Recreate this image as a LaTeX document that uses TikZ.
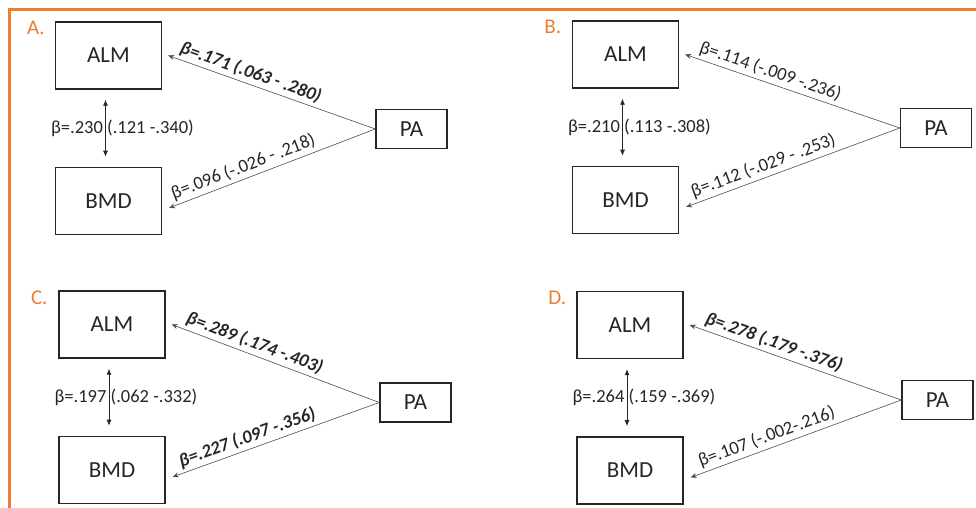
\documentclass[tikz,border=0pt]{standalone}
\usepackage{fontspec}
\setmainfont{Carlito}
\usepackage{xcolor}
\usepackage{tikz}
\usetikzlibrary{arrows.meta}
\usetikzlibrary{positioning}
\definecolor{panelorange}{HTML}{ED7D31}
\definecolor{boxgray}{HTML}{262626}
\definecolor{linegray}{HTML}{4D4D4D}

\begin{document}
\begin{tikzpicture}[x=1pt,y=-1pt,
	varbox/.style={draw=boxgray,line width=1.4pt,minimum width=106pt,minimum height=67pt,inner sep=0pt,text=boxgray,font=\fontsize{23}{26}\selectfont},
	pabox/.style={varbox,minimum width=71pt,minimum height=39pt},
	panellabel/.style={inner sep=0pt,text=panelorange,font=\fontsize{21}{24}\selectfont},
	effect/.style={draw=linegray,line width=0.6pt,-{Stealth[length=6pt,width=5pt,inset=2pt]}},
	corr/.style={draw=boxgray,line width=0.8pt,{Latex[length=6pt,width=5pt]}-{Latex[length=6pt,width=5pt]},shorten <=10pt,shorten >=10pt},
	est/.style={sloped,above,pos=0.62,inner sep=3pt,text=boxgray,font=\fontsize{18.5}{20}\selectfont},
	sig/.style={est,font=\fontsize{18.5}{20}\selectfont\bfseries\itshape},
	corrlabel/.style={xshift=17pt,inner sep=0pt,text=boxgray,font=\fontsize{18.5}{20}\selectfont}]
	\useasboundingbox (0,0) rectangle (976,508);
	\draw[panelorange,line width=2.6pt] (9.5,508) -- (9.5,9.5) -- (976,9.5);
	% A.
	\node[varbox] (almA) at (108.5,55.5) {ALM};
	\node[varbox,below=77pt of almA] (bmdA) {BMD};
	\node[pabox] (paA) at (411.5,129) {PA};
	\node[panellabel] (labA) at ([shift={(-19pt,-7pt)}]almA.north west) {A.};
	\draw[effect] (paA.west) -- node[sig] {β=.171 (.063 - .280)} ([xshift=6pt]almA.east);
	\draw[effect] (paA.west) -- node[est] {β=.096 (-.026 - .218)} ([shift={(7pt,-7pt)}]bmdA.east);
	\draw[corr] ([xshift=-3pt]almA.south) -- node[corrlabel] {β=.230 (.121 -.340)} ([xshift=-3pt]bmdA.north);
	% B.
	\node[varbox] (almB) at (625.5,54.5) {ALM};
	\node[varbox,below=77pt of almB] (bmdB) {BMD};
	\node[pabox] (paB) at (936,128) {PA};
	\node[panellabel] (labB) at ([shift={(-19pt,-7pt)}]almB.north west) {B.};
	\draw[effect] (paB.west) -- node[est] {β=.114 (-.009 -.236)} ([xshift=6pt]almB.east);
	\draw[effect] (paB.west) -- node[est] {β=.112 (-.029 - .253)} ([shift={(7pt,-7pt)}]bmdB.east);
	\draw[corr] ([xshift=-3pt]almB.south) -- node[corrlabel] {β=.210 (.113 -.308)} ([xshift=-3pt]bmdB.north);
	% C.
	\node[varbox] (almC) at (112,324.5) {ALM};
	\node[varbox,below=77pt of almC] (bmdC) {BMD};
	\node[pabox] (paC) at (415.5,402.5) {PA};
	\node[panellabel] (labC) at ([shift={(-19pt,-7pt)}]almC.north west) {C.};
	\draw[effect] (paC.west) -- node[sig] {β=.289 (.174 -.403)} ([xshift=6pt]almC.east);
	\draw[effect] (paC.west) -- node[sig] {β=.227 (.097 -.356)} ([shift={(7pt,-7pt)}]bmdC.east);
	\draw[corr] ([xshift=-3pt]almC.south) -- node[corrlabel] {β=.197 (.062 -.332)} ([xshift=-3pt]bmdC.north);
	% D.
	\node[varbox] (almD) at (630,325) {ALM};
	\node[varbox,below=77pt of almD] (bmdD) {BMD};
	\node[pabox] (paD) at (937.5,400) {PA};
	\node[panellabel] (labD) at ([shift={(-19pt,-7pt)}]almD.north west) {D.};
	\draw[effect] (paD.west) -- node[sig] {β=.278 (.179 -.376)} ([xshift=6pt]almD.east);
	\draw[effect] (paD.west) -- node[est] {β=.107 (-.002-.216)} ([shift={(7pt,-7pt)}]bmdD.east);
	\draw[corr] ([xshift=-3pt]almD.south) -- node[corrlabel] {β=.264 (.159 -.369)} ([xshift=-3pt]bmdD.north);
\end{tikzpicture}
\end{document}
